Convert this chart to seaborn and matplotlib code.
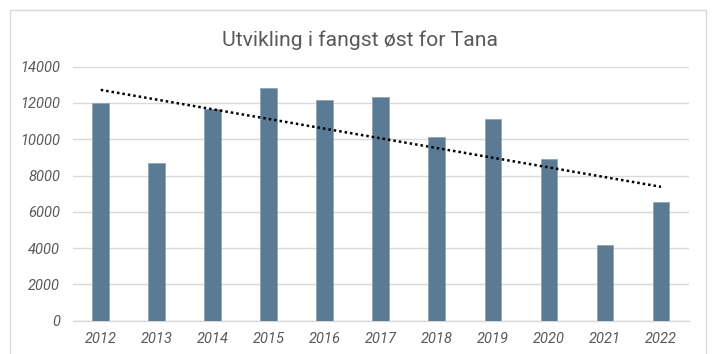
import numpy as np
import pandas as pd
import matplotlib
matplotlib.use("Agg")
import matplotlib.pyplot as plt
import seaborn as sns
from matplotlib.patches import Rectangle

years = ["2012", "2013", "2014", "2015", "2016", "2017", "2018", "2019", "2020", "2021", "2022"]
catch = [12000, 8680, 11650, 12830, 12150, 12320, 10100, 11140, 8930, 4190, 6560]
yticks = [0, 2000, 4000, 6000, 8000, 10000, 12000, 14000]
title = "Utvikling i fangst øst for Tana"

sns.set_theme(style="white")
plt.rcParams["font.family"] = ["Roboto", "DejaVu Sans"]

bar_color = "#5B7B94"
text_color = "#595959"
grid_color = "#D9D9D9"

df = pd.DataFrame({"year": years, "catch": catch})

fig = plt.figure(figsize=(7.13, 3.54), dpi=100)
ax = fig.add_axes([72.7 / 713, 1 - 320.7 / 354, (689 - 72.7) / 713, (320.7 - 66.7) / 354])

sns.barplot(data=df, x="year", y="catch", color=bar_color, saturation=1,
            width=0.30, edgecolor="#8FA6B8", linewidth=0.6, ax=ax, zorder=3)

# Linear trendline over the yearly catch
idx = np.arange(len(years))
slope, intercept = np.polyfit(idx, np.array(catch, dtype=float), 1)
ax.plot(idx, slope * idx + intercept, linestyle=(0, (1, 1.2)), color="black",
        linewidth=1.8, zorder=4)

ax.set_xlim(-0.5, len(years) - 0.5)
ax.set_ylim(0, 14000)
ax.set_yticks(yticks)
ax.set_yticklabels([str(v) for v in yticks])
ax.yaxis.grid(True, color=grid_color, linewidth=1, zorder=0)
ax.set_axisbelow(True)
for side in ["top", "right", "left"]:
    ax.spines[side].set_visible(False)
ax.spines["bottom"].set_color(grid_color)
ax.spines["bottom"].set_linewidth(1)
ax.tick_params(axis="both", length=0, labelsize=10.5, colors=text_color)
ax.tick_params(axis="y", pad=9)
ax.tick_params(axis="x", pad=8)
for lbl in ax.get_xticklabels() + ax.get_yticklabels():
    lbl.set_fontstyle("italic")
ax.set_xlabel("")
ax.set_ylabel("")

fig.text(360 / 713, 1 - 40 / 354, title, ha="center", va="center",
         fontsize=15.2, color=text_color)

# Chart area border
fig.patches.append(Rectangle((10 / 713, -0.05), (706.5 - 10) / 713, 1.05 - 10 / 354,
                             transform=fig.transFigure, fill=False,
                             edgecolor=grid_color, linewidth=1))

fig.savefig("out.png", dpi=100)
